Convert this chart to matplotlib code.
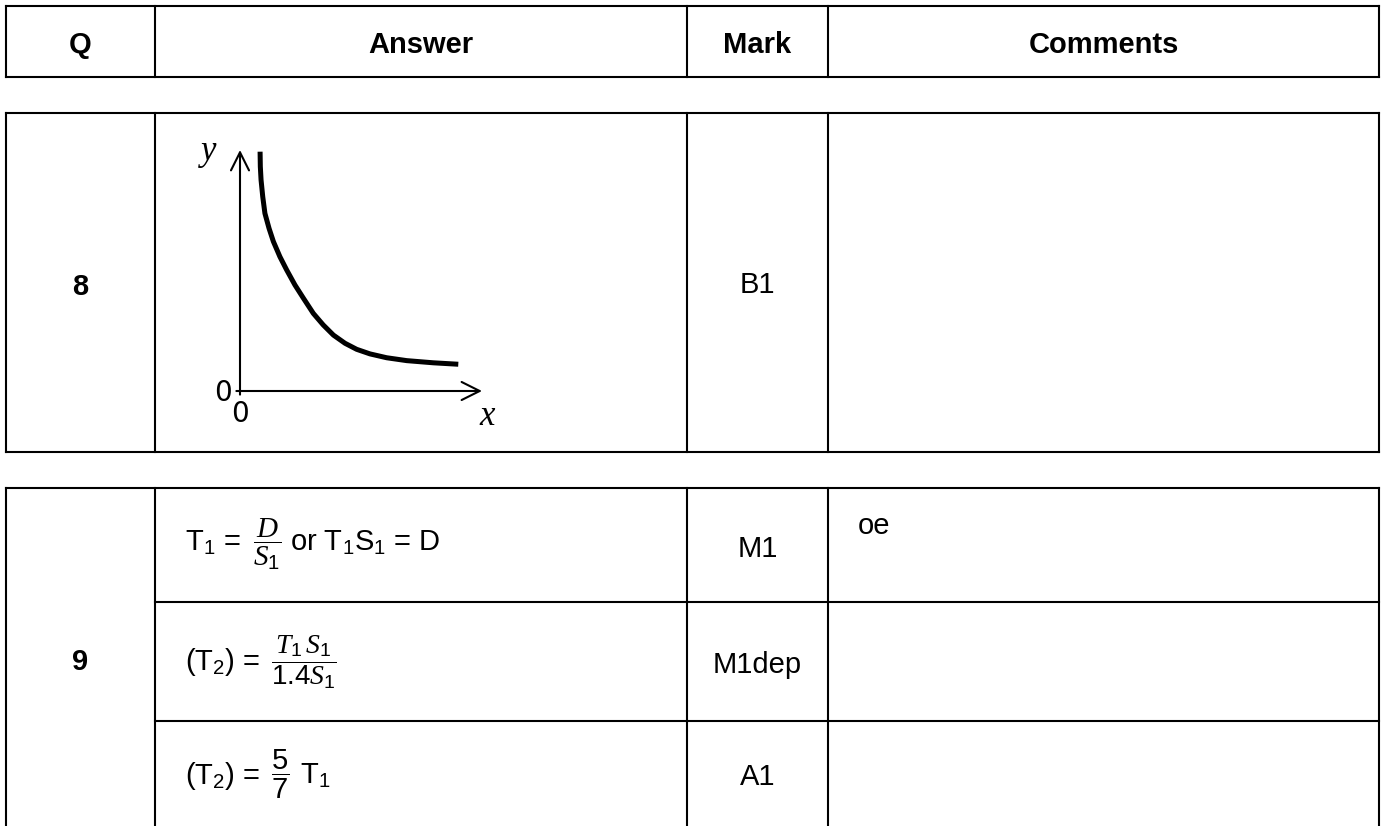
"""
Mark scheme extract (Q8 sketch graph, Q9 algebra) redrawn as a matplotlib table.
"""

import matplotlib.pyplot as plt

plt.rcParams["font.family"] = ["Liberation Sans", "DejaVu Sans"]
plt.rcParams["mathtext.fontset"] = "custom"
plt.rcParams["mathtext.rm"] = "Liberation Sans"
plt.rcParams["mathtext.it"] = "Liberation Serif:italic"
plt.rcParams["mathtext.bf"] = "Liberation Sans:bold"

# ─── Content ─────────────────────────────────────────────────────
HEADERS = ["Q", "Answer", "Mark", "Comments"]
QUESTIONS = ["8", "9"]
MARKS_Q8 = ["B1"]
MARKS_Q9 = ["M1", "M1dep", "A1"]
COMMENTS_Q9 = ["oe", "", ""]

# each Q9 answer line = lead text, fraction, tail text
Q9_LEAD = [r"$\mathrm{T}_1$ =", r"($\mathrm{T}_2$) =", r"($\mathrm{T}_2$) ="]
Q9_FRAC = [r"$\dfrac{D}{S_1}$", r"$\dfrac{T_1\,S_1}{1.4S_1}$", r"$\dfrac{5}{7}$"]
Q9_TAIL = [r"or $\mathrm{T}_1\mathrm{S}_1$ = D", "", r"$\mathrm{T}_1$"]

# Q8 sketch: curve (axis units 0..10)
CURVE_X = [0.83, 0.84, 0.87, 0.94, 1.03, 1.20, 1.38, 1.65, 1.93, 2.27, 2.62,
           3.03, 3.44, 3.86, 4.34, 4.82, 5.37, 6.06, 6.89, 7.99, 9.02]
CURVE_Y = [9.93, 9.31, 8.76, 8.06, 7.37, 6.75, 6.20, 5.57, 5.02, 4.40, 3.85,
           3.22, 2.74, 2.32, 1.98, 1.73, 1.54, 1.38, 1.26, 1.17, 1.11]

# ─── Layout (pixels, page is 1382 x 826) ─────────────────────────
W, H = 1382, 826
COL_X = [6, 155, 687, 828, 1379]
HEAD_Y = (6, 77)
Q8_Y = (113, 452)
Q9_Y = (488, 602, 721, 840)       # last one runs off the page
FS = 21
LW = 1.5
FRAC_FS = [21, 20, 21]
FRAC_CX = [267, 304, 280]
TAIL_X = [290, 0, 300]
LEFT_PAD = 185

fig = plt.figure(figsize=(W / 100, H / 100), dpi=100)
ax = fig.add_axes([0, 0, 1, 1])
ax.set_xlim(0, W)
ax.set_ylim(H, 0)
ax.axis("off")


def hline(y, x0, x1):
    ax.plot([x0, x1], [y, y], color="black", lw=LW, solid_capstyle="projecting")


def vline(x, y0, y1):
    ax.plot([x, x], [y0, y1], color="black", lw=LW, solid_capstyle="projecting")


def centre(i):
    return (COL_X[i] + COL_X[i + 1]) / 2


# header
hline(HEAD_Y[0], COL_X[0], COL_X[-1])
hline(HEAD_Y[1], COL_X[0], COL_X[-1])
for x in COL_X:
    vline(x, HEAD_Y[0], HEAD_Y[1])
for i, h in enumerate(HEADERS):
    ax.text(centre(i), 53, h, ha="center", va="baseline", fontsize=FS, fontweight="bold")

# question 8
hline(Q8_Y[0], COL_X[0], COL_X[-1])
hline(Q8_Y[1], COL_X[0], COL_X[-1])
for x in COL_X:
    vline(x, Q8_Y[0], Q8_Y[1])
ax.text(centre(0), 295, QUESTIONS[0], ha="center", va="baseline", fontsize=FS, fontweight="bold")
ax.text(centre(2), 293, MARKS_Q8[0], ha="center", va="baseline", fontsize=FS)

# question 9
hline(Q9_Y[0], COL_X[0], COL_X[-1])
for y in Q9_Y[1:-1]:
    hline(y, COL_X[1], COL_X[-1])
for x in COL_X:
    vline(x, Q9_Y[0], H + 10)
ax.text(centre(0), 670, QUESTIONS[1], ha="center", va="baseline", fontsize=FS, fontweight="bold")

baselines = [551, 670, 784]
mark_base = [557, 673, 785]
for i in range(3):
    b = baselines[i]
    ax.text(LEFT_PAD, b, Q9_LEAD[i], ha="left", va="baseline", fontsize=FS)
    ax.text(FRAC_CX[i], b, Q9_FRAC[i], ha="center", va="baseline", fontsize=FRAC_FS[i])
    if Q9_TAIL[i]:
        ax.text(TAIL_X[i], b, Q9_TAIL[i], ha="left", va="baseline", fontsize=FS)
    ax.text(centre(2), mark_base[i], MARKS_Q9[i], ha="center", va="baseline", fontsize=FS)
    if COMMENTS_Q9[i]:
        ax.text(858, 534, COMMENTS_Q9[i], ha="left", va="baseline", fontsize=FS)

# ─── Q8 sketch graph ─────────────────────────────────────────────
ox, oy, gw, gh = 240, 391, 242, 241
g = fig.add_axes([ox / W, 1 - oy / H, gw / W, gh / H])
g.set_xlim(0, 10)
g.set_ylim(0, 10)
g.axis("off")

arrow = dict(arrowstyle="->,head_length=1.3,head_width=0.65", lw=LW, color="black",
             shrinkA=0, shrinkB=0, mutation_scale=10)
g.annotate("", xy=(10, 0), xytext=(-0.15, 0), arrowprops=arrow, annotation_clip=False)
g.annotate("", xy=(0, 10), xytext=(0, -0.15), arrowprops=arrow, annotation_clip=False)
g.plot(CURVE_X, CURVE_Y, color="black", lw=3.6, solid_capstyle="butt",
       solid_joinstyle="round", clip_on=False)

g.text(-1.3, 9.95, "y", ha="center", va="center", fontsize=25,
       family="Liberation Serif", style="italic", clip_on=False)
g.text(10.2, -1.05, "x", ha="center", va="center", fontsize=25,
       family="Liberation Serif", style="italic", clip_on=False)
g.text(-0.7, -0.1, "0", ha="center", va="center", fontsize=20, family="DejaVu Sans", clip_on=False)
g.text(0.0, -0.95, "0", ha="center", va="center", fontsize=20, family="DejaVu Sans", clip_on=False)

fig.savefig("out.png", dpi=100)
